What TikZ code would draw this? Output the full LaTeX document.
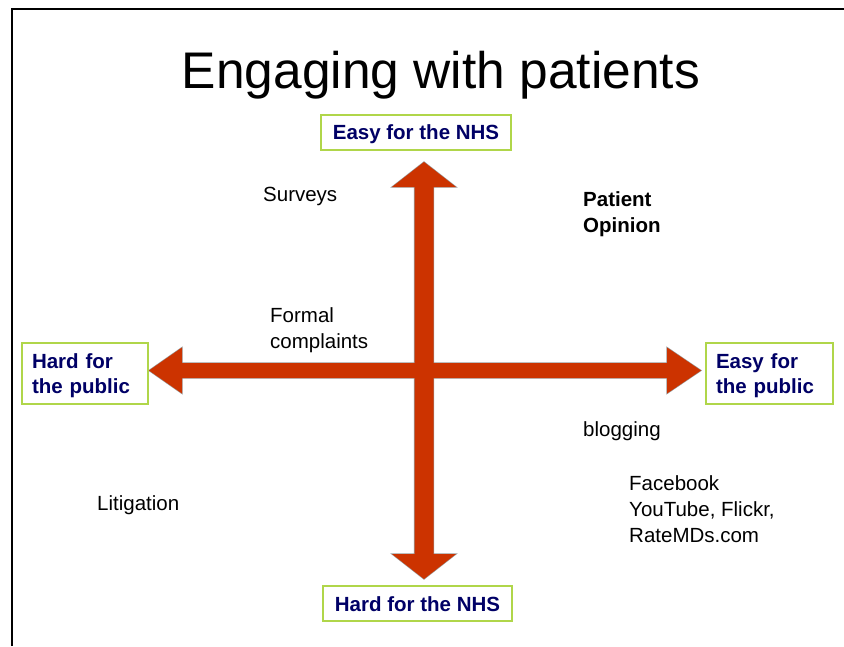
\documentclass[tikz,border=0pt]{standalone}
\usepackage{fontspec}
\setmainfont{Liberation Sans}
\definecolor{arrowred}{RGB}{204,51,0}
\definecolor{boxgreen}{RGB}{176,214,74}
\definecolor{navy}{RGB}{0,0,102}
\begin{document}
\begin{tikzpicture}[x=1pt,y=-1pt,
  lbl/.style={inner sep=0pt, anchor=base west, align=left, font=\fontsize{20.5}{26}\selectfont},
  quad/.style={draw=boxgreen, line width=1.3pt, fill=white, text=navy,
    font=\fontsize{20.5}{25}\selectfont\bfseries, inner ysep=0pt},
  arrowedge/.style={draw=black!40, line width=1.2pt, line join=miter},
  arrowbody/.style={fill=arrowred}]
\useasboundingbox (0,0) rectangle (844,646);
% frame
\draw[line width=2pt] (12,646) -- (12,9) -- (844,9);
% title
\node[font=\fontsize{51.5}{60}\selectfont, anchor=base, inner sep=0pt] (title) at (441,88) {Engaging with patients};
% axes arrows
\def\vert{(424,162) -- (456,187) -- (433.5,187) -- (433.5,554) -- (456,554) -- (424,579) -- (392,554) -- (414.5,554) -- (414.5,187) -- (392,187) -- cycle}
\def\horz{(149,370.5) -- (182,347.5) -- (182,363) -- (667,363) -- (667,347.5) -- (701,370.5) -- (667,393.5) -- (667,378) -- (182,378) -- (182,393.5) -- cycle}
\draw[arrowedge] \vert;
\draw[arrowedge] \horz;
\fill[arrowbody] \vert;
\fill[arrowbody] \horz;
% boxes
\node[quad, minimum width=190pt, minimum height=35pt, inner xsep=0pt, text height=17pt, text depth=4pt] (easynhs) at (416,132.5) {Easy for the NHS};
\node[quad, minimum width=189pt, minimum height=35pt, inner xsep=0pt, text height=16pt, text depth=0pt] (hardnhs) at (417.5,603.5) {Hard for the NHS};
\node[quad, text width=106pt, inner xsep=10pt, minimum height=61pt, align=left] (hardpub) at (85,373.5) {\rule{0pt}{19.5pt}Hard for\\the public};
\node[quad, text width=107pt, inner xsep=10pt, minimum height=61pt, align=left] (easypub) at (769.5,373.5) {\rule{0pt}{19.5pt}Easy for\\the public};
% labels (base = last line)
\node[lbl] (surveys) at (263,201) {Surveys};
\node[lbl, font=\fontsize{20.5}{26}\selectfont\bfseries] (opinion) at (583,232) {Patient\\Opinion};
\node[lbl] (formal) at (270,348) {Formal\\complaints};
\node[lbl] (blogging) at (583,436) {blogging};
\node[lbl] (social) at (629,542) {Facebook\\YouTube, Flickr,\\RateMDs.com};
\node[lbl] (litigation) at (97,510) {Litigation};
\end{tikzpicture}
\end{document}
